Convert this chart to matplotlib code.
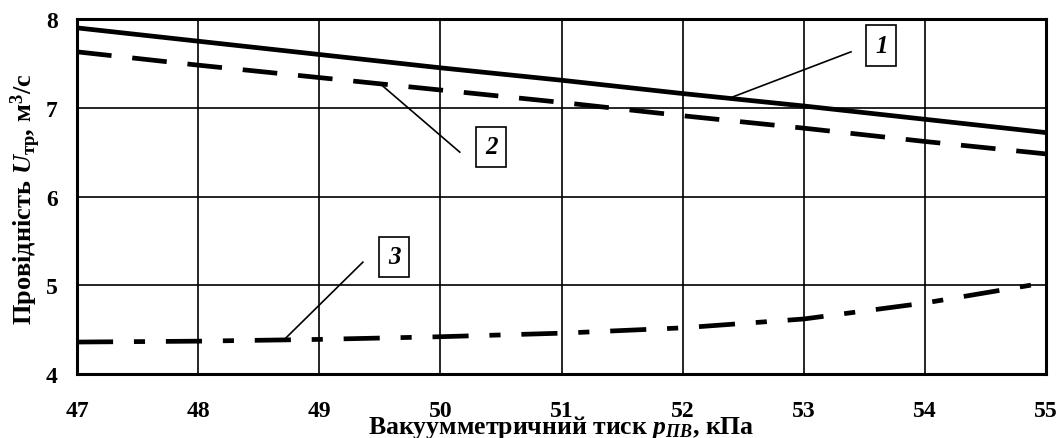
import matplotlib
matplotlib.use("Agg")
import matplotlib.pyplot as plt

plt.rcParams['font.family'] = ['Liberation Serif', 'DejaVu Serif']
plt.rcParams['font.weight'] = 'bold'
plt.rcParams['mathtext.fontset'] = 'custom'
plt.rcParams['mathtext.rm'] = 'Liberation Serif:bold'
plt.rcParams['mathtext.it'] = 'Liberation Serif:italic:bold'
plt.rcParams['mathtext.bf'] = 'Liberation Serif:bold'
plt.rcParams['lines.scale_dashes'] = False

# Data
pressure = [47, 48, 49, 50, 51, 52, 53, 54, 55]
curve1 = [7.90, 7.75, 7.60, 7.45, 7.31, 7.16, 7.02, 6.87, 6.72]
curve2 = [7.63, 7.48, 7.34, 7.20, 7.06, 6.91, 6.77, 6.62, 6.48]
curve3 = [4.36, 4.37, 4.39, 4.42, 4.46, 4.52, 4.62, 4.80, 5.03]
x_ticks = [47, 48, 49, 50, 51, 52, 53, 54, 55]
y_ticks = [4, 5, 6, 7, 8]
labels = ['1', '2', '3']

W, H = 1063, 439
fig = plt.figure(figsize=(W / 100, H / 100), dpi=100)
ax = fig.add_axes([77 / W, 1 - 375 / H, (1046 - 77) / W, (375 - 20) / H])

ax.plot(pressure, curve1, color='black', lw=3.4, solid_capstyle='butt', zorder=3)
ax.plot(pressure, curve2, color='black', lw=3.4, dashes=(25, 15), zorder=3)
ax.plot(pressure, curve3, color='black', lw=3.4, dashes=(26, 15, 8, 15), zorder=3)

ax.set_xlim(47, 55)
ax.set_ylim(4, 8)
ax.set_xticks(x_ticks)
ax.set_yticks(y_ticks)
ax.grid(True, color='black', lw=1.2)
ax.set_axisbelow(True)
for s in ax.spines.values():
    s.set_linewidth(2.2)
ax.tick_params(length=0, labelsize=17)
ax.tick_params(axis='x', pad=19)
ax.tick_params(axis='y', pad=14)
for t in ax.get_xticklabels() + ax.get_yticklabels():
    t.set_fontweight('bold')

fig.text(561 / W, 1 - 434 / H, r'Вакуумметричний тиск $p_{\mathit{ПВ}}$, кПа',
         ha='center', va='baseline', fontsize=18.5, fontweight='bold')
fig.text(26 / W, 1 - 199 / H, r'Провідність $\mathit{U}_{\mathrm{тр}}$, м$^{3}$/с',
         ha='center', va='center', rotation=90, fontsize=19, fontweight='bold')

# Labels with leader lines
leaders = [
    ((53.39, 7.63), (52.41, 7.12), (53.64, 7.70)),
    ((50.16, 6.50), (49.52, 7.25), (50.42, 6.56)),
    ((49.36, 5.26), (48.72, 4.40), (49.62, 5.32)),
]
for lab, (p0, p1, pt) in zip(labels, leaders):
    ax.plot([p0[0], p1[0]], [p0[1], p1[1]], color='black', lw=1.2, zorder=4)
    ax.text(pt[0], pt[1], lab, ha='center', va='center', fontsize=18,
            fontstyle='italic', fontweight='bold', zorder=5,
            bbox=dict(boxstyle='square,pad=0.35', fc='white', ec='black', lw=1.2))

fig.savefig('out.png', dpi=100)
